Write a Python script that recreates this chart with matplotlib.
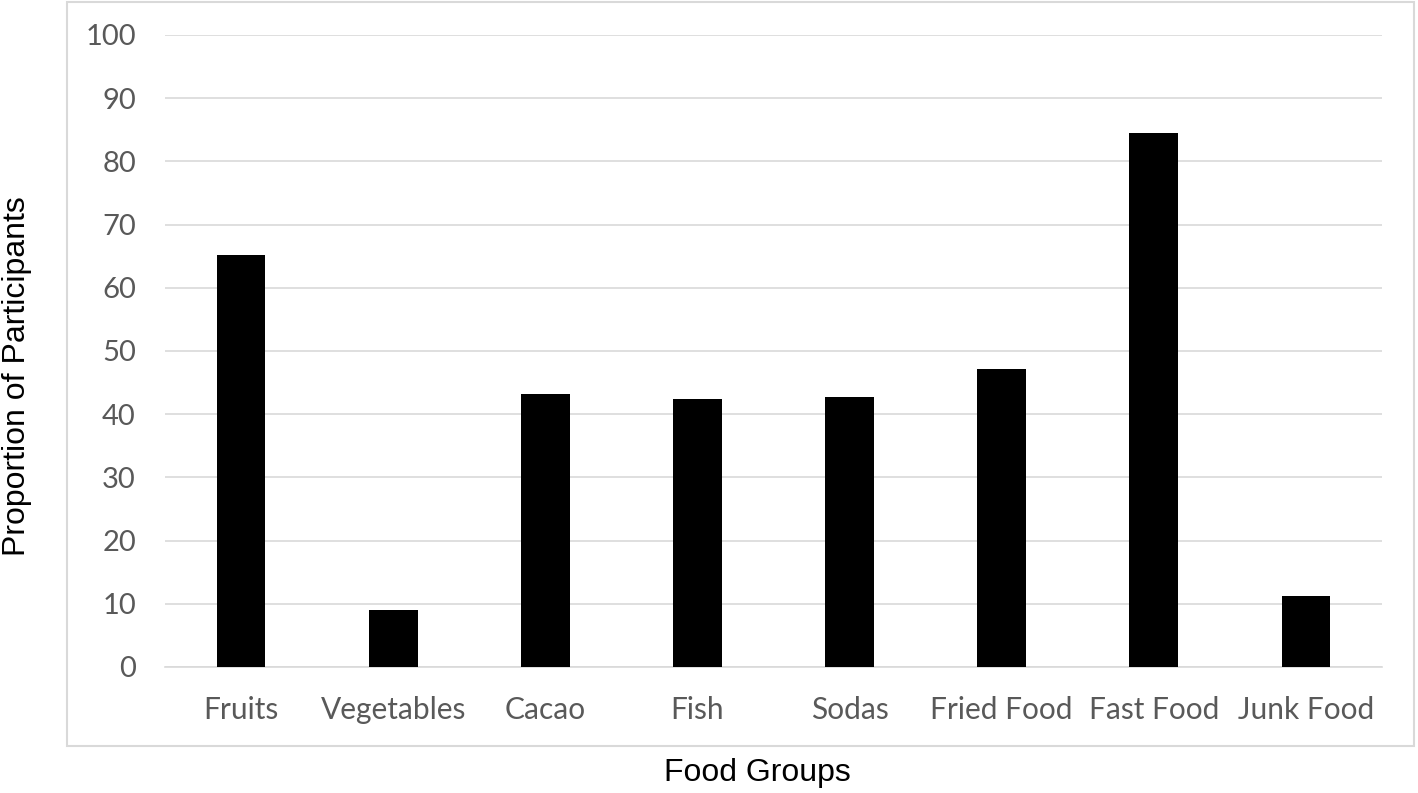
import matplotlib.pyplot as plt
from matplotlib.patches import Rectangle

categorias = ['Fruits', 'Vegetables', 'Cacao', 'Fish', 'Sodas',
              'Fried Food', 'Fast Food', 'Junk Food']
valores = [65.2, 9.0, 43.2, 42.4, 42.7, 47.2, 84.5, 11.2]
yticks = [0, 10, 20, 30, 40, 50, 60, 70, 80, 90, 100]

cinza = '#d9d9d9'
texto = '#595959'

fig = plt.figure(figsize=(14.18, 7.93), dpi=100)
ax = fig.add_axes([0.1164, 0.1589, 0.8582, 0.797])

# moldura externa
fig.patches.append(Rectangle((0.047, 0.059), 0.950, 0.938, transform=fig.transFigure,
                             fill=False, edgecolor=cinza, linewidth=1.5))

x = range(len(categorias))
ax.bar(x, valores, width=0.32, color='black', zorder=3)

ax.set_xlim(-0.5, len(categorias) - 0.5)
ax.set_ylim(0, 100)
ax.set_yticks(yticks)
ax.set_xticks(list(x))
ax.set_xticklabels(categorias)
ax.yaxis.grid(True, color=cinza, linewidth=1.2, zorder=0)
for s in ['top', 'right', 'left']:
    ax.spines[s].set_visible(False)
ax.spines['bottom'].set_color(cinza)
ax.spines['bottom'].set_linewidth(1.2)
ax.tick_params(length=0, colors=texto)
ax.tick_params(axis='x', pad=21, labelsize=21.5)
ax.tick_params(axis='y', pad=21, labelsize=21)
for lab in ax.get_xticklabels() + ax.get_yticklabels():
    lab.set_family('Lato')

fig.text(0.534, 0.025, 'Food Groups', ha='center', va='center',
         fontsize=23, family='Liberation Sans')
fig.text(0.012, 0.526, 'Proportion of Participants', ha='center', va='center',
         rotation=90, fontsize=23, family='Liberation Sans')

fig.savefig('out.png', dpi=100)
